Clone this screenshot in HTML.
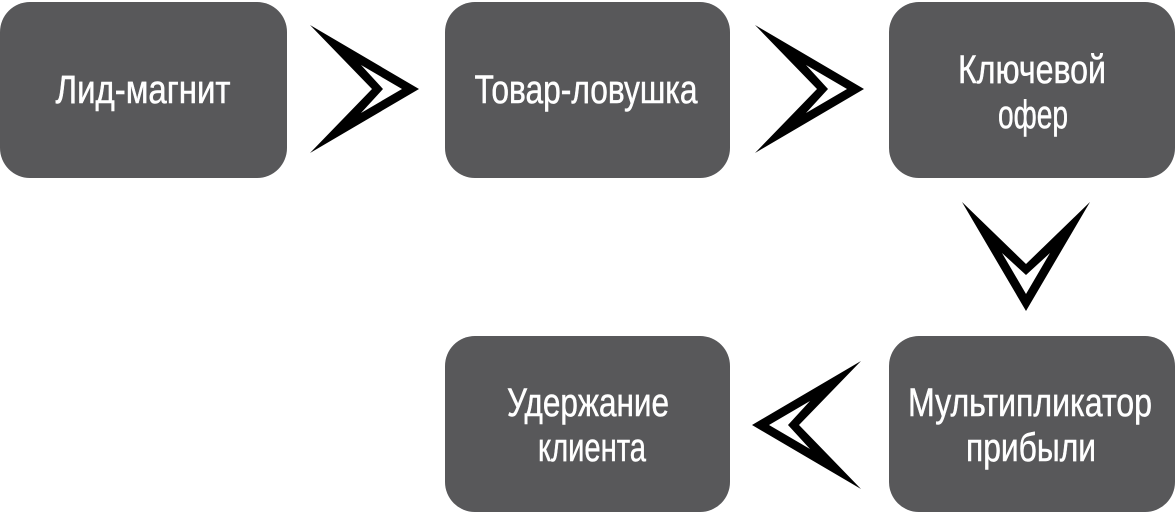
<!DOCTYPE html>
<html><head><meta charset="utf-8"><style>body{margin:0;background:#fff}</style></head><body>
<svg width="1175" height="513" xmlns="http://www.w3.org/2000/svg" font-family="Liberation Sans, sans-serif" font-size="40" fill="#fff">
<g fill="#58585a">
<rect x="0" y="2" width="287" height="176" rx="30"/>
<rect x="445" y="2" width="285" height="176" rx="30"/>
<rect x="889" y="2" width="286" height="176" rx="30"/>
<rect x="889" y="336" width="286" height="176" rx="30"/>
<rect x="445" y="336" width="285" height="176" rx="30"/>
</g>
<g fill="#000" fill-rule="evenodd">
<path d="M310,25 L419,89 L310,153 L372,89 Z M361,65 L402,89 L361,113 L383,89 Z"/>
<path d="M310,25 L419,89 L310,153 L372,89 Z M361,65 L402,89 L361,113 L383,89 Z" transform="translate(445,0)"/>
<path d="M310,25 L419,89 L310,153 L372,89 Z M361,65 L402,89 L361,113 L383,89 Z" transform="translate(1026,256) rotate(90) translate(-364,-89)"/>
<path d="M310,25 L419,89 L310,153 L372,89 Z M361,65 L402,89 L361,113 L383,89 Z" transform="translate(807,425) rotate(180) translate(-364,-89)"/>
</g>
<g text-anchor="middle" stroke="#fff" stroke-width="0.5">
<text x="143" y="103" textLength="175" lengthAdjust="spacingAndGlyphs">Лид-магнит</text>
<text x="586" y="103" textLength="223" lengthAdjust="spacingAndGlyphs">Товар-ловушка</text>
<text x="1032" y="83" textLength="148" lengthAdjust="spacingAndGlyphs">Ключевой</text>
<text x="1033" y="128" textLength="70" lengthAdjust="spacingAndGlyphs">офер</text>
<text x="1030" y="416" textLength="244" lengthAdjust="spacingAndGlyphs">Мультипликатор</text>
<text x="1031" y="461" textLength="130" lengthAdjust="spacingAndGlyphs">прибыли</text>
<text x="588" y="416" textLength="162" lengthAdjust="spacingAndGlyphs">Удержание</text>
<text x="592" y="461" textLength="108" lengthAdjust="spacingAndGlyphs">клиента</text>
</g>
</svg>
</body></html>
